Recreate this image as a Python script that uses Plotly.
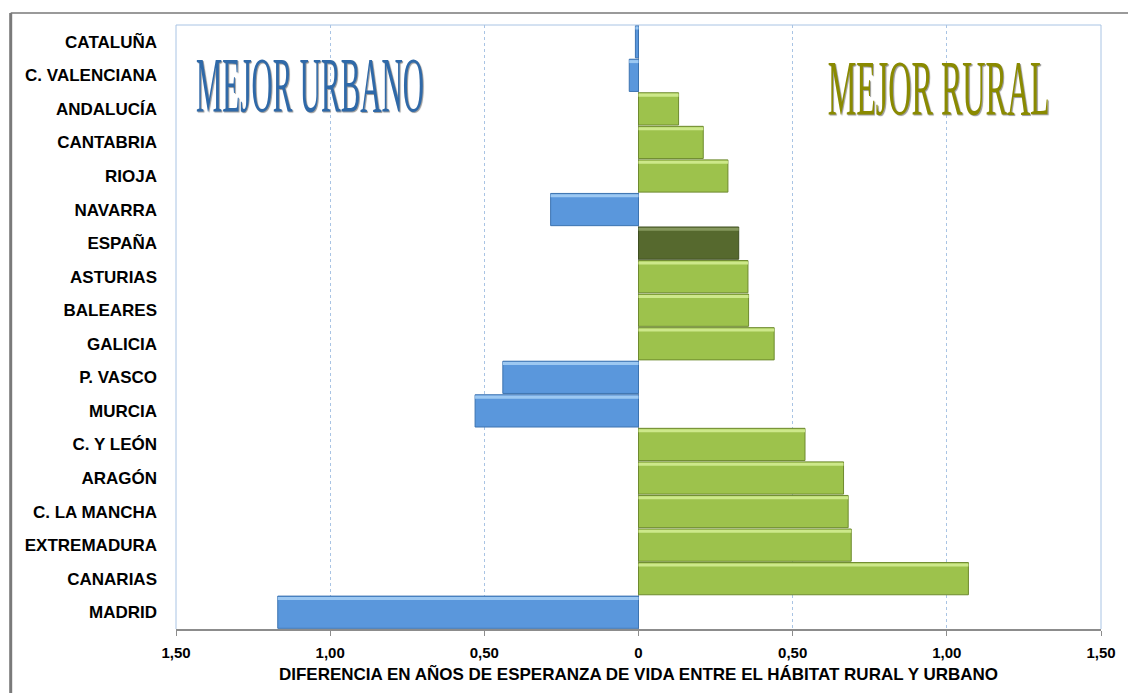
import plotly.graph_objects as go

regions = ["CATALUÑA", "C. VALENCIANA", "ANDALUCÍA", "CANTABRIA", "RIOJA", "NAVARRA",
           "ESPAÑA", "ASTURIAS", "BALEARES", "GALICIA", "P. VASCO", "MURCIA",
           "C. Y LEÓN", "ARAGÓN", "C. LA MANCHA", "EXTREMADURA", "CANARIAS", "MADRID"]
diferencia = [-0.01, -0.03, 0.13, 0.21, 0.29, -0.285,
              0.325, 0.355, 0.357, 0.44, -0.44, -0.53,
              0.54, 0.665, 0.68, 0.69, 1.07, -1.17]
tick_vals = [-1.5, -1.0, -0.5, 0, 0.5, 1.0, 1.5]
tick_text = ["1,50", "1,00", "0,50", "0", "0,50", "1,00", "1,50"]

BLUE, BLUE_EDGE, BLUE_HI = "#5A97DC", "#3C73B0", "#9CC8F2"
GREEN, GREEN_EDGE, GREEN_HI = "#9DC24C", "#6E8A2E", "#CDE88A"
DARK, DARK_EDGE, DARK_HI = "#56692E", "#3E4E20", "#86985E"

fill, edge, hi = [], [], []
for r, v in zip(regions, diferencia):
    if r == "ESPAÑA":
        fill.append(DARK); edge.append(DARK_EDGE); hi.append(DARK_HI)
    elif v < 0:
        fill.append(BLUE); edge.append(BLUE_EDGE); hi.append(BLUE_HI)
    else:
        fill.append(GREEN); edge.append(GREEN_EDGE); hi.append(GREEN_HI)

fig = go.Figure()
fig.add_trace(go.Bar(
    x=diferencia, y=regions, orientation="h", width=0.96, offset=-0.48,
    marker=dict(color=fill, line=dict(color=edge, width=1)),
    hoverinfo="x+y", showlegend=False,
))
# bevel highlight strip along the top of each bar
fig.add_trace(go.Bar(
    x=diferencia, y=regions, orientation="h", width=0.09, offset=-0.455,
    marker=dict(color=hi, line=dict(width=0)),
    hoverinfo="skip", showlegend=False,
))

fig.update_layout(
    width=1128, height=693,
    margin=dict(l=176, r=23, t=25, b=61),
    paper_bgcolor="white", plot_bgcolor="white",
    barmode="overlay",
    font=dict(family="Liberation Sans, Arial, sans-serif", color="#000000"),
    xaxis=dict(
        range=[-1.5, 1.5], tickvals=tick_vals, ticktext=tick_text,
        tickfont=dict(family="Liberation Sans, Arial, sans-serif", size=15, weight="bold"),
        showgrid=True, gridcolor="#A9C4E4", griddash="dot", gridwidth=1,
        zeroline=True, zerolinecolor="#8C8C8C", zerolinewidth=1,
        showline=True, linecolor="#8C8C8C", linewidth=2, mirror=False,
        ticks="outside", ticklen=5, tickcolor="#8C8C8C", ticklabelstandoff=4,
        title=dict(text="DIFERENCIA EN AÑOS DE ESPERANZA DE VIDA ENTRE EL HÁBITAT RURAL Y URBANO",
                   font=dict(family="Liberation Sans, Arial, sans-serif", size=17, weight="bold"),
                   standoff=8),
    ),
    yaxis=dict(
        autorange="reversed",
        tickfont=dict(family="Liberation Sans, Arial, sans-serif", size=17, weight="bold"),
        showgrid=False, showline=False, ticks="", ticklabelstandoff=18,
    ),
    shapes=[
        dict(type="line", xref="paper", yref="paper", x0=0, x1=1, y0=1, y1=1,
             line=dict(color="#A9C4E4", width=1)),
        dict(type="line", xref="paper", yref="paper", x0=1, x1=1, y0=0, y1=1,
             line=dict(color="#A9C4E4", width=1)),
        dict(type="line", xref="paper", yref="paper", x0=0, x1=0, y0=0, y1=1,
             line=dict(color="#A9C4E4", width=1)),
        dict(type="line", xref="paper", yref="paper", x0=-0.1787, x1=1.03, y0=1.0198, y1=1.0198,
             line=dict(color="#9A9A9A", width=2)),
        dict(type="line", xref="paper", yref="paper", x0=-0.1787, x1=-0.1787, y0=-0.11, y1=1.0198,
             line=dict(color="#7A7A7A", width=3)),
    ],
    annotations=[
        dict(text="MEJOR URBANO", xref="paper", yref="paper", x=0.1453, y=0.9028,
             showarrow=False, xanchor="center", yanchor="middle",
             font=dict(family="Liberation Serif, DejaVu Serif, serif", size=32, color="#2F69A8",
                       shadow="2px 1px 1px #9A9A9A")),
        dict(text="MEJOR RURAL", xref="paper", yref="paper", x=0.8245, y=0.897,
             showarrow=False, xanchor="center", yanchor="middle",
             font=dict(family="Liberation Serif, DejaVu Serif, serif", size=32, color="#8A8A00",
                       shadow="2px 1px 1px #9A9A9A")),
    ],
)

# word-art lettering: tall, condensed (stretch the labels vertically around their centre)
post = """
var gd = document.getElementById('{plot_id}');
function wordart() {
  var spec = {'MEJOR URBANO': [228, 2.45], 'MEJOR RURAL': [222, 2.45]};
  gd.querySelectorAll('text.annotation-text').forEach(function (t) {
    var s = spec[t.textContent.trim()];
    if (!s) return;
    if (t.dataset.origT === undefined) t.dataset.origT = t.getAttribute('transform') || '';
    t.setAttribute('transform', t.dataset.origT);
    t.setAttribute('textLength', s[0]);
    t.setAttribute('lengthAdjust', 'spacingAndGlyphs');
    var bb = t.getBBox();
    var cy = bb.y + bb.height / 2;
    t.setAttribute('transform', (t.dataset.origT + ' translate(0,' + cy + ') scale(1,' + s[1] + ') translate(0,' + (-cy) + ')').trim());
  });
}
wordart();
setTimeout(wordart, 50);
setTimeout(wordart, 400);
if (gd.on) { gd.on('plotly_afterplot', wordart); }
"""

fig.write_html("out.html", post_script=post)
